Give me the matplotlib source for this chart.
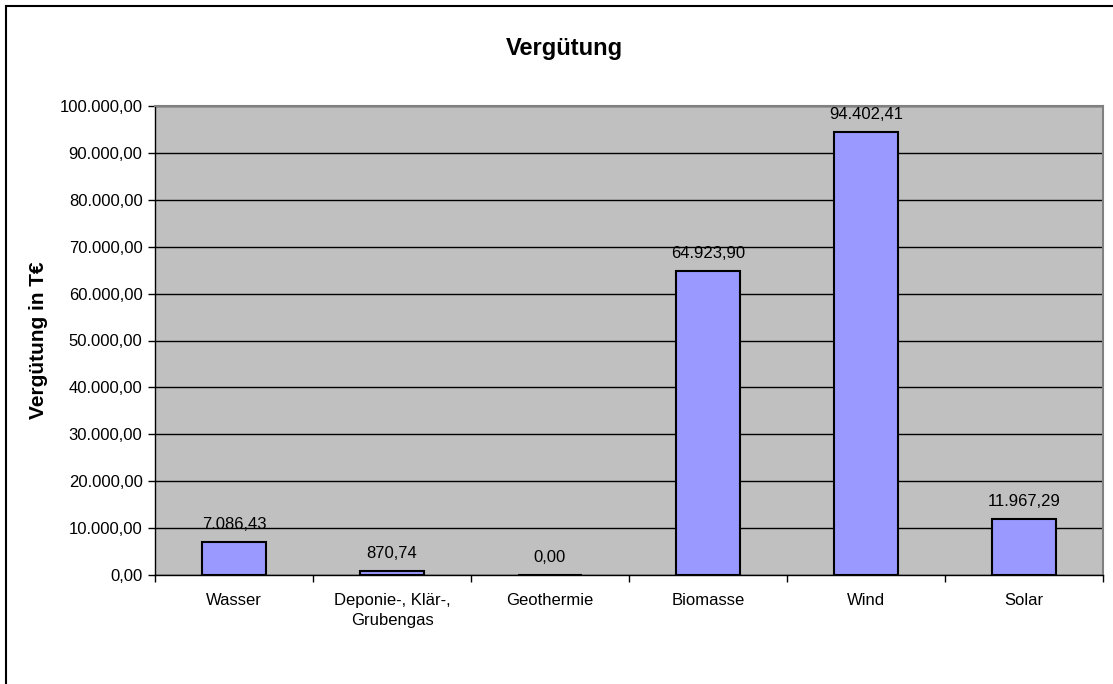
import matplotlib.pyplot as plt
from matplotlib.patches import Rectangle

categories = ["Wasser", "Deponie-, Klär-,\nGrubengas", "Geothermie", "Biomasse", "Wind", "Solar"]
values = [7086.43, 870.74, 0.00, 64923.90, 94402.41, 11967.29]
y_ticks = [0, 10000, 20000, 30000, 40000, 50000, 60000, 70000, 80000, 90000, 100000]


def de_fmt(v):
    # German number format: 1.234,56
    s = "{:,.2f}".format(v)
    return s.replace(",", "X").replace(".", ",").replace("X", ".")


plt.rcParams['font.family'] = ['Liberation Sans', 'DejaVu Sans']

W, H = 1113, 684
fig = plt.figure(figsize=(W / 100, H / 100), dpi=100)
ax = fig.add_axes([155 / W, (H - 575) / H, 948 / W, 469 / H])
ax.set_facecolor('#C0C0C0')

x = list(range(len(categories)))
ax.bar(x, values, width=0.4, color='#9999FF', edgecolor='black', linewidth=1.5, zorder=3)

for xi, v in zip(x, values):
    ax.annotate(de_fmt(v), (xi, v), xytext=(0, 12.5), textcoords='offset points',
                ha='center', va='center', fontsize=12, color='black')

ax.set_xlim(-0.5, len(categories) - 0.5)
ax.set_ylim(0, 100000)
ax.set_yticks(y_ticks)
ax.set_yticklabels([de_fmt(t) for t in y_ticks], fontsize=12)
ax.yaxis.grid(True, color='black', linewidth=1, zorder=1)
ax.set_axisbelow(True)

ax.set_xticks(x)
ax.set_xticklabels(categories, fontsize=12, linespacing=1.45)
ax.set_xticks([i - 0.5 for i in range(len(categories) + 1)], minor=True)
ax.tick_params(axis='x', which='major', length=0, pad=13)
ax.tick_params(axis='x', which='minor', length=5, width=1, direction='out')
ax.tick_params(axis='y', length=5, width=1, direction='out', pad=4)

for side in ['top', 'right']:
    ax.spines[side].set_color('#808080')
    ax.spines[side].set_linewidth(1.5)
for side in ['left', 'bottom']:
    ax.spines[side].set_color('black')
    ax.spines[side].set_linewidth(1)

ax.set_ylabel('Vergütung in T€', fontsize=15, fontweight='bold')
ax.yaxis.set_label_coords((48 - 155) / 948, 0.5)

fig.text(564 / W, 1 - 48 / H, 'Vergütung', ha='center', va='center',
         fontsize=17, fontweight='bold')

# outer chart border (right and bottom edges are cut off in the original)
fig.patches.append(Rectangle((6 / W, -0.2), 2, 1.2 - 6 / H, transform=fig.transFigure,
                             fill=False, edgecolor='black', linewidth=1.5))

fig.savefig('out.png', dpi=100)
